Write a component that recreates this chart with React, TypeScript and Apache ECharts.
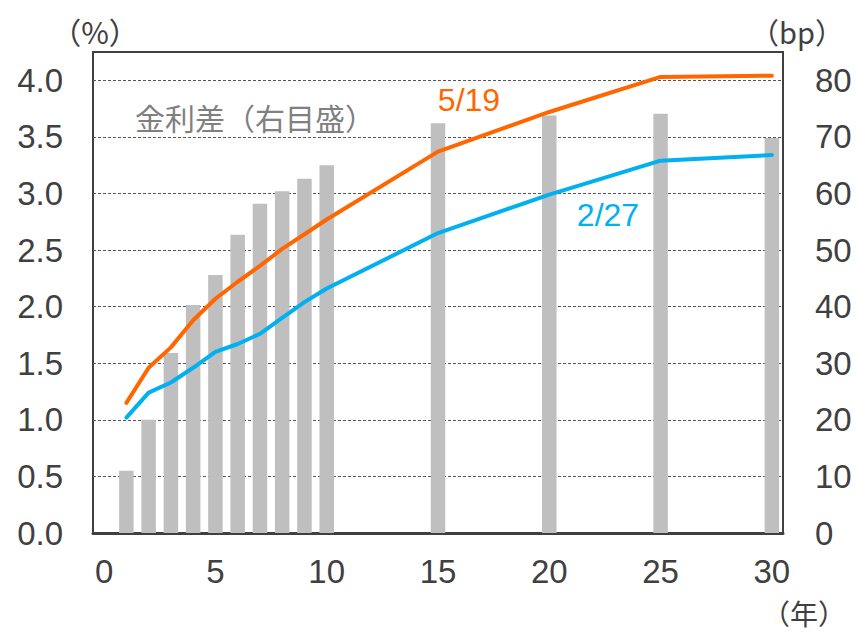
import React, { useEffect, useRef } from "react";
import * as echarts from "echarts";

const maturities = [1, 2, 3, 4, 5, 6, 7, 8, 9, 10, 15, 20, 25, 30];
const spreadBp = [11.0, 20.0, 31.8, 40.3, 45.6, 52.7, 58.2, 60.4, 62.6, 65.0, 72.4, 73.8, 74.1, 69.8];
const yieldMay19 = [1.15, 1.46, 1.64, 1.88, 2.07, 2.22, 2.36, 2.51, 2.64, 2.77, 3.37, 3.72, 4.03, 4.04];
const yieldFeb27 = [1.02, 1.24, 1.33, 1.46, 1.6, 1.67, 1.76, 1.9, 2.04, 2.16, 2.65, 2.99, 3.29, 3.34];
const xTickLabels = [0, 5, 10, 15, 20, 25, 30];

const NUM_FONT = "'Liberation Sans', Arial, sans-serif";
const CJK_FONT = "'Noto Sans CJK JP', 'Noto Sans', sans-serif";
const TXT = "#404040";

export default function App() {
  const ref = useRef<HTMLDivElement>(null);
  useEffect(() => {
    if (!ref.current) return;
    const chart = echarts.init(ref.current, undefined, { renderer: "svg" });
    const pair = (vals: number[]) => maturities.map((m, i) => [m, vals[i]]);
    chart.setOption({
      animation: false,
      backgroundColor: "#ffffff",
      grid: {
        left: 93,
        right: 73,
        top: 52,
        bottom: 100,
        show: true,
        borderColor: "#404040",
        borderWidth: 2,
        backgroundColor: "transparent",
      },
      xAxis: {
        type: "value",
        min: -0.5,
        max: 30.5,
        axisLine: { show: true, onZero: false, lineStyle: { color: "#404040", width: 3 } },
        axisTick: { show: false },
        splitLine: { show: false },
        axisLabel: {
          customValues: xTickLabels,
          color: TXT,
          fontFamily: NUM_FONT,
          fontSize: 33,
          margin: 22,
        },
      },
      yAxis: [
        {
          type: "value",
          min: 0,
          max: 4.25,
          interval: 0.5,
          axisLine: { show: false },
          axisTick: { show: false },
          axisLabel: {
            color: TXT,
            fontFamily: NUM_FONT,
            fontSize: 33,
            margin: 30,
            showMaxLabel: false,
            formatter: (v: number) => v.toFixed(1),
          },
          splitLine: {
            show: true,
            showMinLine: false,
            showMaxLine: false,
            lineStyle: { color: "#555555", width: 1, type: [3, 2] },
          },
        },
        {
          type: "value",
          min: 0,
          max: 85,
          interval: 10,
          position: "right",
          axisLine: { show: false },
          axisTick: { show: false },
          splitLine: { show: false },
          axisLabel: {
            color: TXT,
            fontFamily: NUM_FONT,
            fontSize: 33,
            margin: 32,
            showMaxLabel: false,
          },
        },
      ],
      series: [
        {
          type: "bar",
          yAxisIndex: 1,
          data: pair(spreadBp),
          barWidth: 14.5,
          itemStyle: { color: "#BFBFBF" },
          z: 1,
        },
        {
          type: "line",
          yAxisIndex: 0,
          data: pair(yieldFeb27),
          symbol: "none",
          lineStyle: { color: "#00B0F0", width: 4, cap: "round", join: "round" },
          z: 3,
        },
        {
          type: "line",
          yAxisIndex: 0,
          data: pair(yieldMay19),
          symbol: "none",
          lineStyle: { color: "#FF6600", width: 4, cap: "round", join: "round" },
          z: 3,
        },
      ],
      graphic: [
        {
          type: "text",
          x: 95,
          y: 31,
          style: { text: "（%）", fill: TXT, font: `30px ${CJK_FONT}`, align: "center", verticalAlign: "middle" },
        },
        {
          type: "text",
          x: 797,
          y: 31,
          style: { text: "（bp）", fill: TXT, font: `29px ${CJK_FONT}`, align: "center", verticalAlign: "middle" },
        },
        {
          type: "text",
          x: 804,
          y: 613,
          style: { text: "（年）", fill: TXT, font: `28px ${CJK_FONT}`, align: "center", verticalAlign: "middle" },
        },
        {
          type: "text",
          x: 255,
          y: 117,
          style: { text: "金利差（右目盛）", fill: "#808080", font: `30px ${CJK_FONT}`, align: "center", verticalAlign: "middle" },
        },
        {
          type: "text",
          x: 469,
          y: 100,
          style: { text: "5/19", fill: "#FF6600", font: `32px ${NUM_FONT}`, align: "center", verticalAlign: "middle" },
        },
        {
          type: "text",
          x: 608,
          y: 215,
          style: { text: "2/27", fill: "#00B0F0", font: `32px ${NUM_FONT}`, align: "center", verticalAlign: "middle" },
        },
      ],
    });
    return () => chart.dispose();
  }, []);
  return (
    <div
      ref={ref}
      style={{ position: "fixed", left: 0, top: 0, width: 856, height: 633, background: "#fff" }}
    />
  );
}
